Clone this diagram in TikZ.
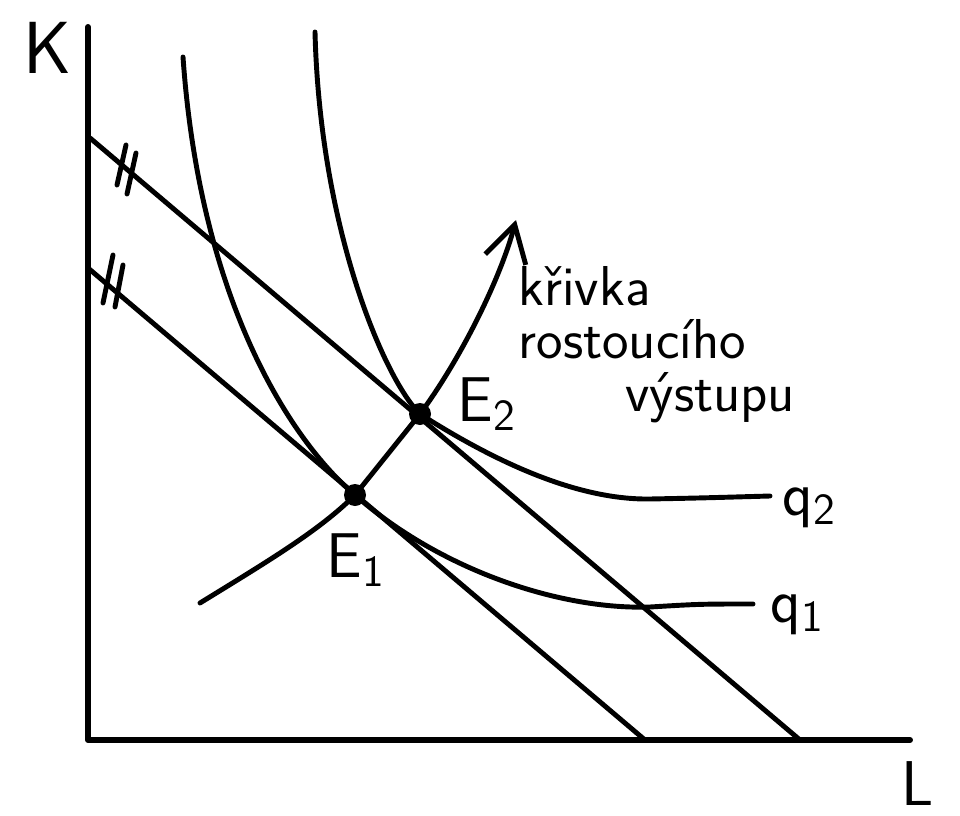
\documentclass[tikz,border=0pt]{standalone}
\usepackage{tikz}
\usetikzlibrary{calc,arrows.meta}

\tikzset{
  curve/.style={line width=1.4pt, line cap=round, line join=round},
  hand/.style={font=\sffamily\fontsize{#1}{#1}\selectfont, inner sep=0pt},
  hand/.default=16
}

\begin{document}
\begin{tikzpicture}[x=0.1mm,y=-0.1mm]
  \useasboundingbox (0,0) rectangle (960,816);
  % axes
  \coordinate (o) at (88,740);
  \coordinate (ytop) at (88,27);
  \coordinate (xend) at (910,740);
  \draw[curve,line width=1.7pt] (ytop)--(o)--(xend);
  \node[hand=21] (K) at (48,48) {K};
  \node[hand=18] (L) at (918,784) {L};
  % budget lines
  \coordinate (b1) at (88,268);
  \coordinate (c1) at (645,740);
  \coordinate (b2) at (90,138);
  \coordinate (c2) at (800,740);
  \draw[curve] (b1)--(c1);
  \draw[curve] (b2)--(c2);
  \draw[curve] (113,255)--(103,303) (123,265)--(115,307);
  \draw[curve] (126,145)--(117,185) (136,153)--(127,194);
  % isoquants
  \coordinate (E1) at (355,495);
  \coordinate (E2) at (420,414);
  \draw[curve] (183,57) .. controls (200,300) and (290,440) .. (E1)
    .. controls (440,570) and (560,610) .. (650,607) .. controls (700,604) .. (753,604);
  \draw[curve] (315,32) .. controls (320,230) and (385,380) .. (E2)
    .. controls (500,465) and (580,500) .. (650,499) .. controls (700,498) .. (770,496);
  \node[hand=18] (q2) at (810,508) {q\textsubscript{2}};
  \node[hand=18] (q1) at (798,615) {q\textsubscript{1}};
  % expansion path
  \coordinate (start) at (200,603);
  \coordinate (tip) at (516,220);
  \draw[curve] (start) .. controls (270,560) and (320,530) .. (E1) -- (E2);
  \draw[curve,-{Straight Barb[length=3.6mm,width=4.2mm]}] (E2)
    .. controls (460,360) and (500,280) .. (tip);
  \fill (E1) circle (1.1mm);
  \fill (E2) circle (1.1mm);
  \node[hand=18] (lE1) at (356,560) {E\textsubscript{1}};
  \node[hand=18] (lE2) at (487,404) {E\textsubscript{2}};
  \node[hand,anchor=north west,align=left] (path) at (518,266)
    {k\v{r}ivka\\[-1pt] rostouc\'iho\\[-1pt] \hspace*{1.9em}v\'ystupu};
\end{tikzpicture}
\end{document}
